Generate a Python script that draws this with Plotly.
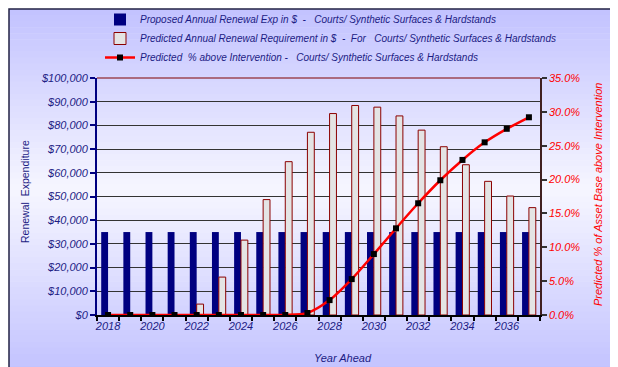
import plotly.graph_objects as go

years = list(range(2018, 2038))

proposed_exp = [35000] * 20

predicted_req = [
    0, 0, 0, 0, 4600, 16000, 31600, 48700, 64700, 77100,
    85000, 88400, 87700, 84000, 78000, 71000, 63400, 56400, 50200, 45300,
]

pct_above = [
    0.0, 0.0, 0.0, 0.0, 0.0, 0.0, 0.0, 0.0, 0.0, 0.003,
    0.022, 0.053, 0.090, 0.128, 0.165, 0.199, 0.229, 0.255, 0.275, 0.292,
]

label_years = years[::2]
money_ticks = list(range(0, 100001, 10000))
money_labels = [f"${v:,}" for v in money_ticks]

NAVY = "#1c1c84"
RED = "#ff0000"
FONT = "Liberation Sans, Arial, sans-serif"

fig = go.Figure()

fig.add_trace(go.Bar(
    x=years, y=proposed_exp,
    name="Proposed Annual Renewal Exp in $  -   Courts/ Synthetic Surfaces & Hardstands",
    marker=dict(color="#000080", line=dict(width=0)),
))
fig.add_trace(go.Bar(
    x=years, y=predicted_req,
    name="Predicted Annual Renewal Requirement in $  -  For   Courts/ Synthetic Surfaces & Hardstands",
    marker=dict(color="#e4e4e4", line=dict(color="#8b0000", width=1)),
))
fig.add_trace(go.Scatter(
    x=years, y=pct_above, yaxis="y2",
    mode="lines+markers",
    name="Predicted  % above Intervention -   Courts/ Synthetic Surfaces & Hardstands",
    line=dict(color=RED, width=2.5, shape="spline", smoothing=0.8),
    marker=dict(symbol="square", size=6, color="black"),
))

# page body has an 8px margin, so the figure starts at (8, 8) on screen
OFF = 8
W, H = 618 - OFF, 367 - OFF

# plot area in screen pixels
plot_top, plot_bot, plot_left, plot_right = 78, 315, 97, 540
def py(p):
    return (plot_bot - p) / (plot_bot - plot_top)
def px(p):
    return (p - plot_left) / (plot_right - plot_left)

# background gradient (lavender -> near white -> lavender)
shapes = []
n = 60
top_px, bot_px, mid_px = 9, 372, 190
edge = (194, 194, 255)
centre = (246, 246, 255)
for i in range(n):
    y0 = top_px + (bot_px - top_px) * i / n
    y1 = top_px + (bot_px - top_px) * (i + 1) / n
    ym = (y0 + y1) / 2
    if ym < mid_px:
        t = (ym - top_px) / (mid_px - top_px)
    else:
        t = (bot_px - ym) / (bot_px - mid_px)
    c = [round(edge[k] + (centre[k] - edge[k]) * t) for k in range(3)]
    shapes.append(dict(
        type="rect", xref="paper", yref="paper", layer="below",
        x0=px(9), x1=px(640), y0=py(y1 + 0.6), y1=py(y0),
        fillcolor=f"rgb({c[0]},{c[1]},{c[2]})", line=dict(width=0),
    ))
# chart frame
shapes.append(dict(type="rect", xref="paper", yref="paper", layer="below",
                   x0=px(9), x1=px(700), y0=py(420), y1=py(9),
                   line=dict(color="#222244", width=1.5)))
# top edge of plot area
shapes.append(dict(type="line", xref="paper", yref="paper",
                   x0=0, x1=1, y0=1, y1=1, line=dict(color="#800000", width=1.2)))

fig.update_layout(
    width=W, height=H,
    margin=dict(l=plot_left - OFF, r=618 - plot_right, t=plot_top - OFF,
                b=367 - plot_bot, autoexpand=False),
    paper_bgcolor="white",
    plot_bgcolor="rgba(0,0,0,0)",
    barmode="group",
    bargap=0.38,
    bargroupgap=0,
    font=dict(family=FONT, color=NAVY, size=11),
    showlegend=True,
    legend=dict(
        x=px(100), y=py(5), xanchor="left", yanchor="top",
        bgcolor="rgba(0,0,0,0)",
        font=dict(size=10, style="italic", color=NAVY),
        tracegroupgap=0, itemwidth=30,
    ),
    shapes=shapes,
    xaxis=dict(
        range=[years[0] - 0.5, years[-1] + 0.5],
        tickvals=label_years,
        ticktext=[str(y) for y in label_years],
        ticks="", automargin=False,
        tickfont=dict(size=11, style="italic", color=NAVY),
        showgrid=False, zeroline=False,
        showline=True, linecolor="black", linewidth=2,
        minor=dict(tickvals=[y - 0.5 for y in years] + [years[-1] + 0.5],
                   ticks="outside", ticklen=4, tickcolor="black", tickwidth=2),
    ),
    yaxis=dict(
        range=[0, 100000],
        tickvals=money_ticks, ticktext=money_labels,
        ticks="outside", ticklen=5, tickcolor="#000080", tickwidth=2,
        tickfont=dict(size=11, style="italic", color=NAVY),
        showgrid=True, gridcolor="#333333", gridwidth=1,
        zeroline=False, automargin=False,
        showline=True, linecolor="#000080", linewidth=2,
    ),
    yaxis2=dict(
        overlaying="y", side="right",
        range=[0, 0.35], dtick=0.05, tickformat=".1%",
        ticks="outside", ticklen=5, tickcolor="#333333", tickwidth=1.5,
        tickfont=dict(size=11, style="italic", color=RED),
        showgrid=False, zeroline=False, automargin=False,
        showline=True, linecolor="#402020", linewidth=1.5,
    ),
    annotations=[
        dict(text="Renewal  Expenditure", xref="paper", yref="paper",
             x=px(25), y=py(192), xanchor="center", yanchor="middle",
             textangle=-90, showarrow=False,
             font=dict(size=10.5, color=NAVY)),
        dict(text="Predicted % of Asset Base above Intervention", xref="paper", yref="paper",
             x=px(598), y=py(195), xanchor="center", yanchor="middle",
             textangle=-90, showarrow=False,
             font=dict(size=11, color=RED, style="italic")),
        dict(text="Year Ahead", xref="paper", yref="paper",
             x=px(343), y=py(358), xanchor="center", yanchor="middle",
             showarrow=False,
             font=dict(size=11, color=NAVY, style="italic")),
    ],
)

fig.write_html("out.html")
